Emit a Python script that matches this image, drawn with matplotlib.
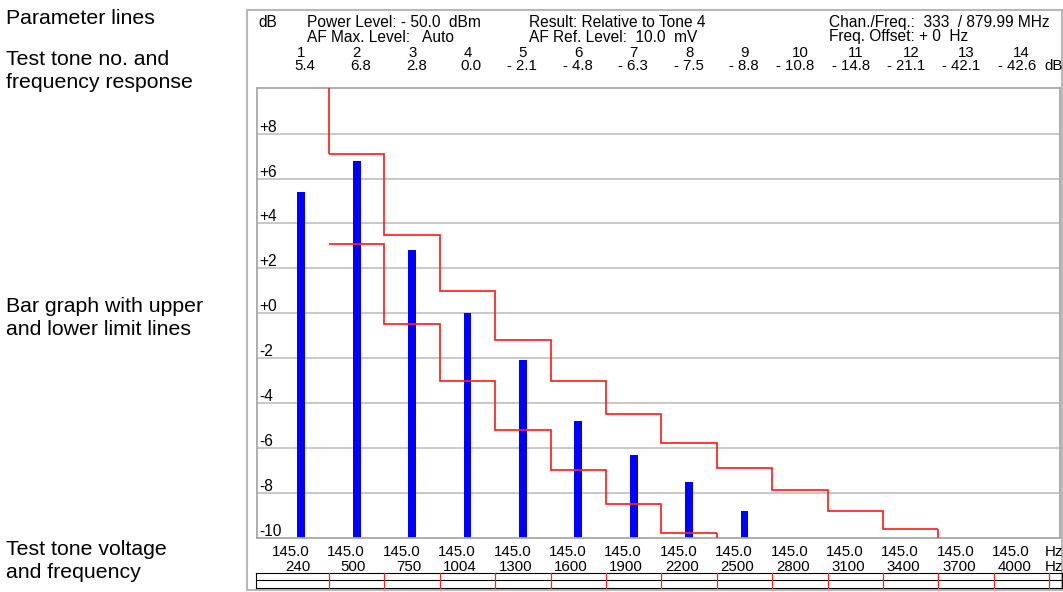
import numpy as np
import matplotlib
matplotlib.use("Agg")
import matplotlib.pyplot as plt
from matplotlib import transforms
from matplotlib.patches import Rectangle

plt.rcParams['font.family'] = ['Liberation Sans', 'DejaVu Sans']

# ---------------- data ----------------
tones = [1, 2, 3, 4, 5, 6, 7, 8, 9, 10, 11, 12, 13, 14]
response_db = [5.4, 6.8, 2.8, 0.0, -2.1, -4.8, -6.3, -7.5, -8.8, -10.8, -14.8, -21.1, -42.1, -42.6]
tone_voltage = ["145.0"] * 14
tone_freq_hz = [240, 500, 750, 1004, 1300, 1600, 1900, 2200, 2500, 2800, 3100, 3400, 3700, 4000]
upper_limit_db = [np.nan, 7.1, 3.5, 1.0, -1.2, -3.0, -4.5, -5.8, -6.9, -7.9, -8.8, -9.6, np.nan, np.nan]
lower_limit_db = [np.nan, 3.1, -0.5, -3.0, -5.2, -7.0, -8.5, -9.8, np.nan, np.nan, np.nan, np.nan, np.nan, np.nan]
y_ticks = [8, 6, 4, 2, 0, -2, -4, -6, -8, -10]
header_row1 = [("dB", 258), ("Power Level: - 50.0  dBm", 307),
               ("Result: Relative to Tone 4", 529), ("Chan./Freq.:  333  / 879.99 MHz", 829)]
header_row2 = [("AF Max. Level:   Auto", 307), ("AF Ref. Level:  10.0  mV", 529),
               ("Freq. Offset: + 0  Hz", 829)]
side_labels = [("Parameter lines", 24), ("Test tone no. and", 65), ("frequency response", 88),
               ("Bar graph with upper", 312), ("and lower limit lines", 335),
               ("Test tone voltage", 555), ("and frequency", 578)]

# ---------------- figure ----------------
W, H = 1063, 592
fig = plt.figure(figsize=(W / 100, H / 100), dpi=100)
fig.patch.set_facecolor('white')

ov = fig.add_axes([0, 0, 1, 1], zorder=0)
ov.set_xlim(0, W)
ov.set_ylim(H, 0)
ov.axis('off')

L, R, T, B = 257, 1059.5, 87.5, 537.6
ax = fig.add_axes([L / W, 1 - B / H, (R - L) / W, (B - T) / H], zorder=1)
ax.set_xlim(0.2004, 14.684)
ymin, ymax = -10, 10.06
ax.set_ylim(ymin, ymax)
ax.set_facecolor('white')
ax.set_xticks([])
ax.set_yticks([])
for s in ax.spines.values():
    s.set_color('#a8a8a8')
    s.set_linewidth(1.3)

FS = 10.8
FSH = 11.2
grid_c = '#c4c4c4'
for v in y_ticks:
    if v > ymin:
        ax.axhline(v, color=grid_c, lw=1.3, zorder=1)
ylab_tr = transforms.offset_copy(ax.get_yaxis_transform(), fig=fig, x=2, y=2, units='dots')
for v in y_ticks:
    lab = f"+{v}" if v >= 0 else f"-{abs(v)}"
    ax.text(0, v, lab, transform=ylab_tr, ha='left', va='baseline', fontsize=FSH, color='black', zorder=3)

# bars
x = np.array(tones, dtype=float)
vals = np.array(response_db)
heights = np.clip(vals, ymin, None) - ymin
ax.bar(x, heights, bottom=ymin, width=0.14, color='#0000ff', zorder=2)

# limit lines
red = '#ff2020'
LW = 1.25
def draw_limit(lim, from_top):
    lim = np.array(lim, dtype=float)
    idx = np.where(~np.isnan(lim))[0]
    v = lim[idx]
    edges = np.concatenate([x[idx] - 0.5, [x[idx[-1]] + 0.5]])
    ax.stairs(v, edges, baseline=None, color=red, lw=LW, zorder=4)
    if from_top:
        ax.vlines(edges[0], v[0], ymax, color=red, lw=LW, zorder=4)
    ax.vlines(edges[-1], ymin, v[-1], color=red, lw=LW, zorder=4)

draw_limit(upper_limit_db, True)
draw_limit(lower_limit_db, False)

# ---------------- overlay ----------------
ov.add_patch(Rectangle((247, 9.5), 1062 - 247, 590 - 9.5, fill=False, ec='#b8b8b8', lw=1.5))

for txt, yb in side_labels:
    ov.text(6, yb, txt, fontsize=15.3, va='baseline', ha='left', color='black')

for txt, xp in header_row1:
    ov.text(xp, 27, txt, fontsize=FSH, va='baseline', ha='left')
for txt, xp in header_row2:
    ov.text(xp, 41.5, txt, fontsize=FSH, va='baseline', ha='left')

bl = transforms.blended_transform_factory(ax.transData, ov.transData)
for t, v in zip(tones, response_db):
    ov.text(t, 57, str(t), transform=bl, ha='center', va='baseline', fontsize=FS)
    s = f"- {abs(v):.1f}" if v < 0 else f"{v:.1f}"
    ov.text(t + 0.26, 70, s, transform=bl, ha='right', va='baseline', fontsize=FS)
ov.text(1044, 70, "dB", ha='left', va='baseline', fontsize=FS)

for t, vv, f in zip(tones, tone_voltage, tone_freq_hz):
    ov.text(t + 0.15, 556.5, vv, transform=bl, ha='right', va='baseline', fontsize=FS)
    ov.text(t + 0.17, 571, str(f), transform=bl, ha='right', va='baseline', fontsize=FS)
ov.text(1045, 556.5, "Hz", ha='left', va='baseline', fontsize=FS)
ov.text(1045, 571, "Hz", ha='left', va='baseline', fontsize=FS)

# bottom table
for yy in (572.7, 580.2, 587.7):
    ov.plot([256, 1061.5], [yy, yy], color='black', lw=0.8)
for xx in (256, 1061.5):
    ov.plot([xx, xx], [572.7, 587.7], color='black', lw=0.8)
for t in tones:
    ov.plot([t + 0.5, t + 0.5], [572.7, 587.7], transform=bl, color=red, lw=0.9)

fig.savefig("out.png", dpi=100)
